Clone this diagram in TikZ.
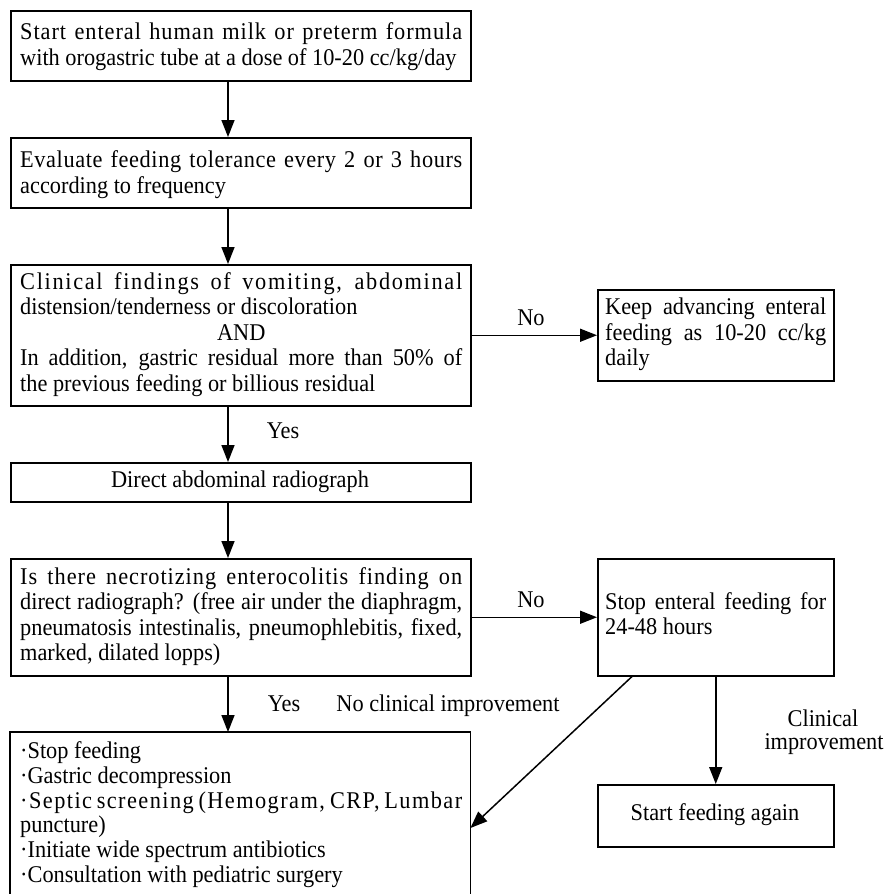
\documentclass[tikz,border=0pt]{standalone}
\usepackage{fontspec}
\setmainfont{Liberation Serif}[FakeStretch=0.93]
\usetikzlibrary{arrows.meta}
\newcommand\jline[2][442pt]{\makebox[#1][s]{#2}}
\newcommand\lsp[2]{{\addfontfeature{LetterSpace=#1}#2}}
\begin{document}
\begin{tikzpicture}[x=1pt,y=-1pt,
  frame/.style={draw,line width=1.5pt,inner sep=0pt,anchor=north west},
  openframe/.style={inner sep=0pt,anchor=north west},
  txt/.style={inner sep=0pt,anchor=north west,align=left,font=\fontsize{24}{#1}\selectfont},
  txt/.default={25.5},
  lbl/.style={inner sep=0pt,anchor=base,font=\fontsize{24}{25.5}\selectfont},
  arr/.style={line width=1.5pt,-{Triangle[length=17pt,width=13pt]}}]
\useasboundingbox (0,0) rectangle (885,894);
% frames
\node[frame,minimum width=460pt,minimum height=70pt]  (f1) at (10,10) {};
\node[frame,minimum width=460pt,minimum height=70pt]  (f2) at (10,137) {};
\node[frame,minimum width=460pt,minimum height=141pt] (f3) at (10,264) {};
\node[frame,minimum width=236pt,minimum height=91pt]  (fk) at (597,289) {};
\node[frame,minimum width=460pt,minimum height=39pt]  (f4) at (10,462) {};
\node[frame,minimum width=460pt,minimum height=117pt] (f5) at (10,558) {};
\node[frame,minimum width=236pt,minimum height=117pt] (fs) at (597,558) {};
\node[openframe,minimum width=460pt,minimum height=162pt] (ff) at (10,732) {};
\draw[line width=1.5pt] (ff.south west) -- (ff.north west) -- (ff.north east) -- (ff.south east);
\node[frame,minimum width=236pt,minimum height=62pt]  (fa) at (597,784) {};
% texts
\node[txt=26] (t1) at (20,21.15) {\strut\jline{\lsp{4}{Start enteral human milk or preterm formula}}\\ with orogastric tube at a dose of 10-20 cc/kg/day};
\node[txt=26] (t2) at (20,149.15) {\strut\jline{\lsp{2.5}{Evaluate feeding tolerance every 2 or 3 hours}}\\ according to frequency};
\node[txt] (t3) at (20,271.15) {\strut\jline{\lsp{7}{Clinical findings of vomiting, abdominal}}\\ distension/tenderness or discoloration\\ \makebox[442pt][c]{AND}\\ \jline{In addition, gastric residual more than 50\% of}\\ the previous feeding or billious residual};
\node[txt] (tk) at (605,296.65) {\strut\jline[221pt]{Keep advancing enteral}\\ \jline[221pt]{feeding as 10-20 cc/kg}\\ daily};
\node[lbl] (t4) at (240,487) {Direct abdominal radiograph};
\node[txt] (t5) at (20,566.15) {\strut\jline{\lsp{4}{Is there necrotizing enterocolitis finding on}}\\ \jline{direct radiograph? (free air under the diaphragm,}\\ \jline{pneumatosis intestinalis, pneumophlebitis, fixed,}\\ marked, dilated lopps)};
\node[txt] (ts) at (605,591.15) {\strut\jline[221pt]{Stop enteral feeding for}\\ 24-48 hours};
\node[txt=24.7] (tf) at (20,741.15) {\strut ·Stop feeding\\ ·Gastric decompression\\ \jline{\lsp{6}{·Septic screening (Hemogram, CRP, Lumbar}}\\ puncture)\\ ·Initiate wide spectrum antibiotics\\ ·Consultation with pediatric surgery};
\node[lbl] (ta) at (715,820.5) {Start feeding again};
% labels
\node[lbl] (lno1) at (531,325) {No};
\node[lbl] (lyes1) at (283,438) {Yes};
\node[lbl] (lno2) at (531,607) {No};
\node[lbl] (lyes2) at (284,711) {Yes};
\node[lbl] (lnci) at (448,711) {No clinical improvement};
\node[lbl] (lci1) at (823,726) {Clinical};
\node[lbl] (lci2) at (824,749) {improvement};
% connectors
\coordinate (cx) at (228,0);
\coordinate (d1) at (632,0);
\coordinate (d2) at (0,828);
\draw[arr] (f1.south -| cx) -- (f2.north -| cx);
\draw[arr] (f2.south -| cx) -- (f3.north -| cx);
\draw[arr] (f3.east |- fk.west) -- (fk.west);
\draw[arr] (f3.south -| cx) -- (f4.north -| cx);
\draw[arr] (f4.south -| cx) -- (f5.north -| cx);
\draw[arr] (f5.east |- fs.west) -- (fs.west);
\draw[arr] (f5.south -| cx) -- (ff.north -| cx);
\draw[arr] (fs.south -| d1) -- (ff.east |- d2);
\draw[arr] (fs.south -| fa.north) -- (fa.north);
\end{tikzpicture}
\end{document}
